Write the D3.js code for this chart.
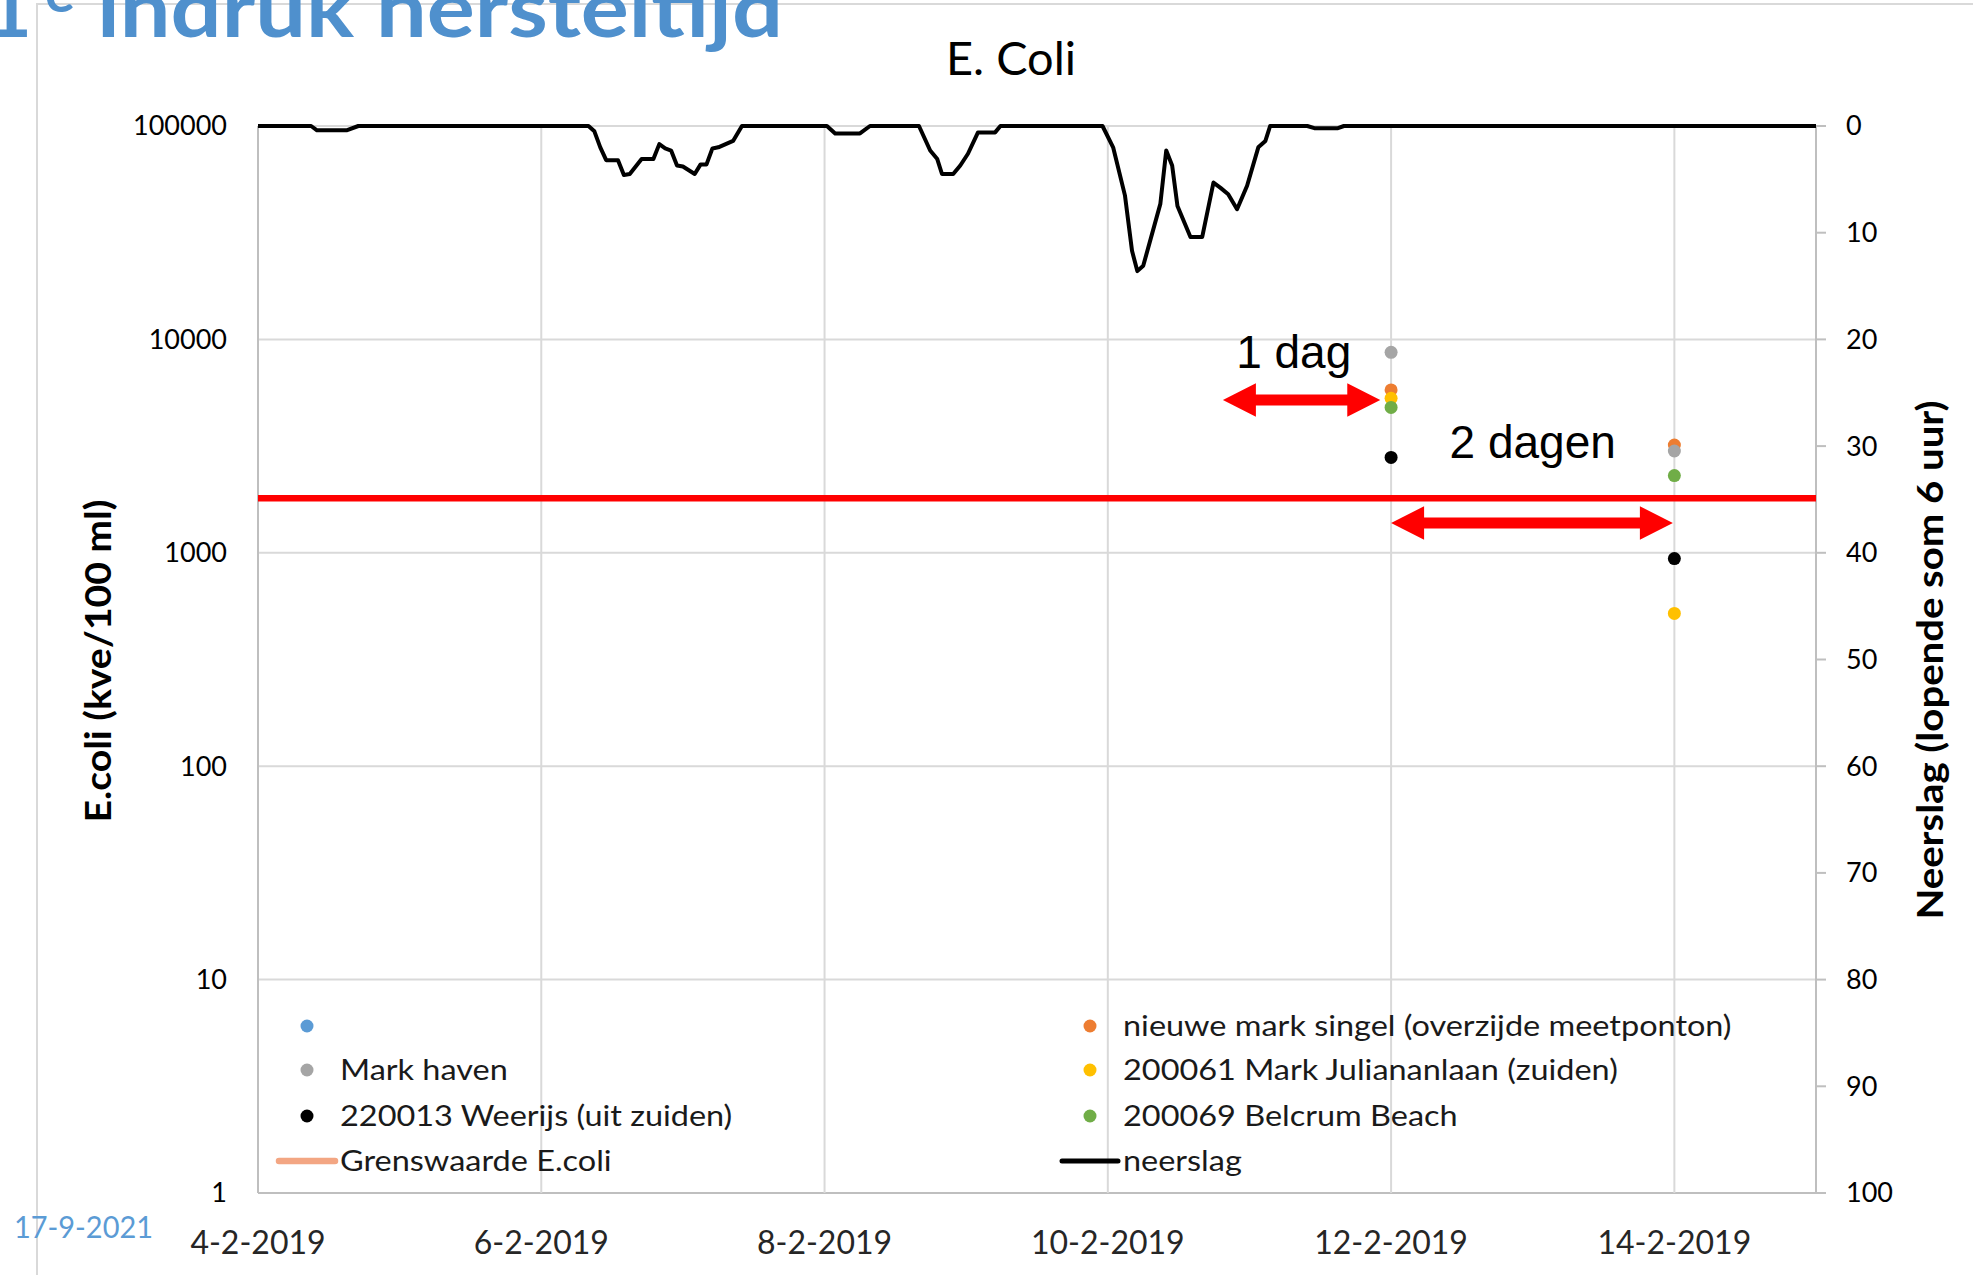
<!DOCTYPE html>
<html>
<head>
<meta charset="utf-8">
<script src="https://cdn.jsdelivr.net/npm/d3@7"></script>
<style>
    body { margin: 0; background: #fff; }
    svg { display: block; font-family: Lato, 'Open Sans', sans-serif; }
</style>
</head>
<body>
<svg id="chart"></svg>
<script>
// meetdata E.coli (kve/100 ml)
const meetDatums = ['12-2-2019', '14-2-2019'];
const leeg = [];                       // blauwe reeks zonder naam, geen punten
const nieuweMarkSingel = [5800, 3200];
const markHaven = [8700, 3000];
const julianalaan = [5300, 520];
const weerijs = [2800, 940];
const belcrum = [4800, 2300];
const grenswaarde = 1800;

// neerslag (lopende som 6 uur), uren na 4-2-2019 00:00
const neerslagUren = [0, 9, 10, 15, 17,
    56, 57, 58, 59, 61, 62, 63, 65, 67, 68, 69, 70, 71, 72, 74, 75, 76, 77, 78, 80.5, 82,
    96.4, 97.8, 102, 103.7,
    112, 113.9, 115.1, 115.9, 117.8, 119, 120.3, 122, 124.9, 125.8,
    143.1, 144.9, 146.9, 148.1, 149, 150, 152.9, 153.9, 154.9, 155.8, 158, 160, 161.9, 163.1, 164.4, 165.9, 167.6, 169.5, 170.7, 171.5,
    177.8, 179, 183, 184, 264];
const neerslagWaarden = [0, 0, 0.4, 0.4, 0,
    0, 0.5, 2.0, 3.2, 3.2, 4.6, 4.5, 3.1, 3.1, 1.7, 2.1, 2.3, 3.7, 3.8, 4.5, 3.6, 3.6, 2.1, 2.0, 1.4, 0,
    0, 0.7, 0.7, 0,
    0, 2.3, 3.1, 4.5, 4.5, 3.7, 2.6, 0.6, 0.6, 0,
    0, 2.0, 6.5, 11.7, 13.6, 13.1, 7.3, 2.3, 3.7, 7.5, 10.4, 10.4, 5.3, 5.8, 6.4, 7.8, 5.6, 2.0, 1.4, 0,
    0, 0.2, 0.2, 0, 0];

// assen
const xTickLabels = ['4-2-2019', '6-2-2019', '8-2-2019', '10-2-2019', '12-2-2019', '14-2-2019'];
const xEinde = '15-2-2019';
const yTicksLinks = [1, 10, 100, 1000, 10000, 100000];
const yTicksRechts = [0, 10, 20, 30, 40, 50, 60, 70, 80, 90, 100];

// annotaties (pijlen)
const pijlLabels = ['1 dag', '2 dagen'];
const pijlVan = ['10-2-2019 19:30', '12-2-2019 00:00'];
const pijlTot = ['11-2-2019 22:10', '13-2-2019 23:45'];
const pijlWaarde = [5200, 1380];
const pijlLabelDatum = ['11-2-2019 07:30', '13-2-2019 00:00'];
const pijlLabelWaarde = [7350, 2780];

const width = 1973, height = 1275;
const plotL = 258, plotR = 1816, plotT = 126, plotB = 1193;

const parseDag = d3.timeParse('%d-%m-%Y');
const parseTijd = d3.timeParse('%d-%m-%Y %H:%M');
const start = parseDag(xTickLabels[0]);

const svg = d3.select('#chart')
    .attr('width', width)
    .attr('height', height);

const x = d3.scaleTime()
    .domain([start, parseDag(xEinde)])
    .range([plotL, plotR]);
const yL = d3.scaleLog()
    .domain([1, 100000])
    .range([plotB, plotT]);
const yR = d3.scaleLinear()
    .domain([0, 100])
    .range([plotT, plotB]);

// slide kader
svg.append('path')
    .attr('d', `M37,${height} V4 H${width}`)
    .attr('fill', 'none')
    .attr('stroke', '#d9d9d9')
    .attr('stroke-width', 2);

// slide titel (valt deels buiten beeld, net als in de slide)
const titelKleur = '#4f90cd';
svg.append('text')
    .attr('x', 32).attr('y', 37)
    .attr('text-anchor', 'end')
    .attr('font-size', 80).attr('font-weight', 700)
    .attr('fill', titelKleur)
    .text('1');
svg.append('text')
    .attr('x', 45).attr('y', 12)
    .attr('font-size', 56).attr('font-weight', 700)
    .attr('fill', titelKleur)
    .text('e');
svg.append('text')
    .attr('x', 97).attr('y', 37)
    .attr('font-size', 80).attr('font-weight', 700)
    .attr('fill', titelKleur)
    .attr('textLength', 686).attr('lengthAdjust', 'spacingAndGlyphs')
    .text('indruk hersteltijd');

svg.append('text')
    .attr('x', 14).attr('y', 1238)
    .attr('font-size', 30)
    .attr('fill', '#5b9bd5')
    .attr('textLength', 139).attr('lengthAdjust', 'spacingAndGlyphs')
    .text('17-9-2021');

// grafiek titel
svg.append('text')
    .attr('x', 1011).attr('y', 75)
    .attr('text-anchor', 'middle')
    .attr('font-size', 46)
    .attr('textLength', 130).attr('lengthAdjust', 'spacingAndGlyphs')
    .text('E. Coli');

// rasterlijnen
const grid = svg.append('g').attr('class', 'grid');
grid.selectAll('line.h')
    .data(yTicksLinks)
    .enter()
    .append('line')
    .attr('x1', plotL).attr('x2', plotR)
    .attr('y1', d => yL(d)).attr('y2', d => yL(d))
    .attr('stroke', d => d === 1 ? '#bfbfbf' : '#d9d9d9')
    .attr('stroke-width', 2);
grid.selectAll('line.v')
    .data(xTickLabels.concat([xEinde]))
    .enter()
    .append('line')
    .attr('x1', d => x(parseDag(d))).attr('x2', d => x(parseDag(d)))
    .attr('y1', plotT).attr('y2', plotB)
    .attr('stroke', (d, i) => i === 0 || d === xEinde ? '#bfbfbf' : '#d9d9d9')
    .attr('stroke-width', 2);

// rechter as tick streepjes
svg.append('g')
    .selectAll('line')
    .data(yTicksRechts)
    .enter()
    .append('line')
    .attr('x1', plotR).attr('x2', plotR + 10)
    .attr('y1', d => yR(d)).attr('y2', d => yR(d))
    .attr('stroke', '#bfbfbf')
    .attr('stroke-width', 2);

// as labels
svg.append('g')
    .selectAll('text')
    .data(yTicksLinks)
    .enter()
    .append('text')
    .attr('x', 227)
    .attr('y', d => yL(d))
    .attr('dy', '0.35em')
    .attr('text-anchor', 'end')
    .attr('font-size', 27)
    .attr('fill', '#000')
    .text(d => d);

svg.append('g')
    .selectAll('text')
    .data(yTicksRechts)
    .enter()
    .append('text')
    .attr('x', 1846)
    .attr('y', d => yR(d))
    .attr('dy', '0.35em')
    .attr('font-size', 27)
    .text(d => d);

svg.append('g')
    .selectAll('text')
    .data(xTickLabels)
    .enter()
    .append('text')
    .attr('x', d => x(parseDag(d)))
    .attr('y', 1254)
    .attr('text-anchor', 'middle')
    .attr('font-size', 32)
    .attr('fill', '#262626')
    .text(d => d);

svg.append('text')
    .attr('transform', 'translate(111,661) rotate(-90)')
    .attr('text-anchor', 'middle')
    .attr('font-size', 37).attr('font-weight', 700)
    .attr('textLength', 323).attr('lengthAdjust', 'spacingAndGlyphs')
    .text('E.coli (kve/100 ml)');

svg.append('text')
    .attr('transform', 'translate(1943,660) rotate(-90)')
    .attr('text-anchor', 'middle')
    .attr('font-size', 37).attr('font-weight', 700)
    .attr('textLength', 519).attr('lengthAdjust', 'spacingAndGlyphs')
    .text('Neerslag (lopende som 6 uur)');

// grenswaarde
svg.append('line')
    .attr('x1', plotL).attr('x2', plotR)
    .attr('y1', yL(grenswaarde)).attr('y2', yL(grenswaarde))
    .attr('stroke', '#ff0000')
    .attr('stroke-width', 6.5);

// neerslag lijn
const neerslag = neerslagUren.map((h, i) => ({
    t: new Date(start.getTime() + h * 36e5),
    v: neerslagWaarden[i]
}));
const lijn = d3.line()
    .x(d => x(d.t))
    .y(d => yR(d.v));
svg.append('path')
    .datum(neerslag)
    .attr('d', lijn)
    .attr('fill', 'none')
    .attr('stroke', '#000')
    .attr('stroke-width', 4)
    .attr('stroke-linejoin', 'round');

// meetpunten, in volgorde van de reeksen
const reeksen = [
    { naam: '', kleur: '#5b9bd5', data: leeg },
    { naam: 'nieuwe mark singel (overzijde meetponton)', kleur: '#ed7d31', data: nieuweMarkSingel },
    { naam: 'Mark haven', kleur: '#a5a5a5', data: markHaven },
    { naam: '200061 Mark Juliananlaan (zuiden)', kleur: '#ffc000', data: julianalaan },
    { naam: '220013 Weerijs (uit zuiden)', kleur: '#000000', data: weerijs },
    { naam: '200069 Belcrum Beach', kleur: '#70ad47', data: belcrum }
];
reeksen.forEach(r => {
    svg.append('g')
        .selectAll('circle')
        .data(r.data)
        .enter()
        .append('circle')
        .attr('cx', (d, i) => x(parseDag(meetDatums[i])))
        .attr('cy', d => yL(d))
        .attr('r', 6.5)
        .attr('fill', r.kleur);
});

// pijlen
const pijl = (x1, x2, y) => {
    const kop = 33, half = 16.7, schacht = 5.5;
    return `M${x1},${y} L${x1 + kop},${y - half} L${x1 + kop},${y - schacht} L${x2 - kop},${y - schacht} ` +
        `L${x2 - kop},${y - half} L${x2},${y} L${x2 - kop},${y + half} L${x2 - kop},${y + schacht} ` +
        `L${x1 + kop},${y + schacht} L${x1 + kop},${y + half} Z`;
};
svg.append('g')
    .selectAll('path')
    .data(pijlLabels)
    .enter()
    .append('path')
    .attr('d', (d, i) => pijl(x(parseTijd(pijlVan[i])), x(parseTijd(pijlTot[i])), yL(pijlWaarde[i])))
    .attr('fill', '#ff0000');
svg.append('g')
    .selectAll('text')
    .data(pijlLabels)
    .enter()
    .append('text')
    .attr('x', (d, i) => x(parseTijd(pijlLabelDatum[i])))
    .attr('y', (d, i) => yL(pijlLabelWaarde[i]))
    .attr('text-anchor', 'middle')
    .attr('font-family', "'Liberation Sans', Arial, sans-serif")
    .attr('font-size', 46)
    .text(d => d);

// legenda
const legenda = [
    { type: 'punt', kleur: reeksen[0].kleur, naam: reeksen[0].naam, x: 307, y: 1026 },
    { type: 'punt', kleur: reeksen[2].kleur, naam: reeksen[2].naam, x: 307, y: 1070 },
    { type: 'punt', kleur: reeksen[4].kleur, naam: reeksen[4].naam, x: 307, y: 1116 },
    { type: 'lijn', kleur: '#f3a683', naam: 'Grenswaarde E.coli', x: 307, y: 1161, w: 6.5 },
    { type: 'punt', kleur: reeksen[1].kleur, naam: reeksen[1].naam, x: 1090, y: 1026 },
    { type: 'punt', kleur: reeksen[3].kleur, naam: reeksen[3].naam, x: 1090, y: 1070 },
    { type: 'punt', kleur: reeksen[5].kleur, naam: reeksen[5].naam, x: 1090, y: 1116 },
    { type: 'lijn', kleur: '#000000', naam: 'neerslag', x: 1090, y: 1161, w: 5 }
];
const leg = svg.append('g').attr('class', 'legend');
legenda.forEach(l => {
    if (l.type === 'punt') {
        leg.append('circle')
            .attr('cx', l.x).attr('cy', l.y)
            .attr('r', 6.5)
            .attr('fill', l.kleur);
    } else {
        leg.append('line')
            .attr('x1', l.x - 28).attr('x2', l.x + 28)
            .attr('y1', l.y).attr('y2', l.y)
            .attr('stroke', l.kleur)
            .attr('stroke-width', l.w)
            .attr('stroke-linecap', 'round');
    }
    // tekst iets breder getrokken, zoals in de slide
    leg.append('text')
        .attr('transform', `translate(${l.x + 33},${l.y}) scale(1.1,1)`)
        .attr('dy', '0.35em')
        .attr('font-size', 29.5)
        .attr('fill', '#1a1a1a')
        .text(l.naam);
});
</script>
</body>
</html>
